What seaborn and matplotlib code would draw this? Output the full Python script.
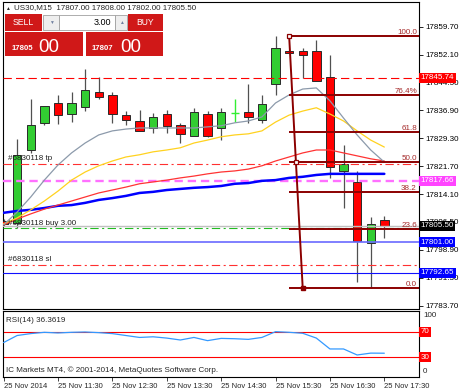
import matplotlib
matplotlib.use("Agg")
import matplotlib.pyplot as plt
import matplotlib.transforms as mtrans
from matplotlib.patches import Rectangle
import numpy as np
import pandas as pd
import seaborn as sns

# ---------------- data ----------------
symbol = "US30,M15"
header_ohlc = ["17807.00", "17808.00", "17802.00", "17805.50"]
bar_times = ["10:30", "10:45", "11:00", "11:15", "11:30", "11:45", "12:00", "12:15", "12:30", "12:45",
             "13:00", "13:15", "13:30", "13:45", "14:00", "14:15", "14:30", "14:45", "15:00", "15:15",
             "15:30", "15:45", "16:00", "16:15", "16:30", "16:45", "17:00", "17:15", "17:30"]
opens = [17806.8, 17806.2, 17826.1, 17833.5, 17839.0, 17835.9, 17837.9, 17842.0, 17841.1, 17835.6,
         17834.0, 17832.0, 17835.9, 17832.9, 17829.9, 17835.9, 17832.0, 17836.1, 17836.4, 17834.3,
         17844.1, 17853.1, 17853.1, 17853.1, 17845.9, 17820.5, 17817.3, 17800.9, 17807.0]
highs = [17807.3, 17829.1, 17839.9, 17838.1, 17841.2, 17842.0, 17848.1, 17845.9, 17842.0, 17836.8,
         17837.0, 17836.1, 17837.0, 17833.4, 17837.5, 17836.8, 17837.5, 17839.9, 17844.1, 17841.1,
         17857.2, 17853.2, 17853.8, 17856.1, 17852.0, 17827.5, 17820.5, 17807.9, 17808.0]
lows = [17805.4, 17804.9, 17825.3, 17832.8, 17833.2, 17833.7, 17836.7, 17839.9, 17833.4, 17832.9,
        17831.2, 17830.8, 17830.8, 17827.9, 17829.9, 17829.7, 17828.8, 17833.8, 17833.4, 17833.4,
        17841.1, 17852.5, 17845.7, 17844.9, 17818.4, 17810.2, 17790.2, 17788.4, 17802.0]
closes = [17806.0, 17824.8, 17832.9, 17838.1, 17835.5, 17839.0, 17842.5, 17840.5, 17835.9, 17834.3,
          17831.3, 17835.0, 17832.5, 17830.5, 17836.4, 17829.9, 17836.4, 17836.1, 17835.0, 17838.6,
          17854.0, 17852.6, 17852.0, 17844.9, 17821.4, 17822.3, 17801.3, 17805.9, 17805.5]

ma_gray = [17805.7, 17809.2, 17813.3, 17817.9, 17822.0, 17825.3, 17828.0, 17830.2, 17831.3, 17831.8,
           17832.1, 17832.1, 17832.1, 17832.1, 17832.1, 17832.4, 17832.7, 17833.5, 17834.0, 17835.1,
           17838.9, 17841.1, 17842.7, 17843.0, 17839.5, 17834.8, 17830.2, 17826.1, 17822.8]
ma_yellow = [17806.0, 17807.6, 17809.8, 17812.2, 17814.9, 17817.9, 17820.1, 17821.8, 17823.1, 17824.2,
             17824.8, 17825.6, 17826.1, 17826.7, 17828.0, 17828.8, 17829.7, 17830.2, 17830.5, 17831.3,
             17833.7, 17835.6, 17836.7, 17837.6, 17835.9, 17834.0, 17831.3, 17828.8, 17826.9]
ma_red = [17805.7, 17807.3, 17808.7, 17810.0, 17811.1, 17812.2, 17813.3, 17814.4, 17815.2, 17816.0,
          17816.9, 17817.4, 17817.9, 17818.5, 17819.0, 17819.6, 17820.1, 17820.4, 17820.9, 17821.8,
          17823.1, 17824.2, 17825.3, 17826.1, 17826.1, 17825.3, 17824.5, 17823.7, 17823.1]
ma_blue = [17809.0, 17809.5, 17809.8, 17810.3, 17810.9, 17811.1, 17811.7, 17812.5, 17813.0, 17813.6,
           17814.4, 17814.7, 17815.2, 17815.5, 17815.8, 17816.0, 17816.3, 17816.9, 17817.1, 17817.7,
           17817.9, 17818.5, 17818.8, 17819.3, 17819.6, 17819.6, 17819.6, 17819.6, 17819.6]
rsi = [53, 64, 67, 69, 68, 69, 69.5, 68.5, 67, 64,
       61, 62, 60, 57, 61, 56, 59.5, 59, 58, 61,
       70, 69, 67.5, 60, 43, 43, 33.6, 36.5, 36.3619]
rsi_label = "RSI(14) 36.3619"
rsi_levels = [70, 30]

price_ticks = [17859.70, 17852.10, 17844.50, 17836.90, 17829.30, 17821.70,
               17814.10, 17806.50, 17798.90, 17791.30, 17783.70]
time_tick_pos = [0, 4, 8, 12, 16, 20, 24, 28]
time_tick_labels = ["25 Nov 2014", "25 Nov 11:30", "25 Nov 12:30", "25 Nov 13:30",
                    "25 Nov 14:30", "25 Nov 15:30", "25 Nov 16:30", "25 Nov 17:30"]

resistance = 17845.74
magenta_level = 17817.66
bid_price = 17805.50
support_1 = 17801.00
support_2 = 17792.65
order_tp = 17822.30
order_open = 17804.80
order_sl = 17794.90
order_texts = ["#6830118 tp", "#6830118 buy 3.00", "#6830118 sl"]

fib_high, fib_high_bar = 17857.2, 21
fib_low, fib_low_bar = 17788.4, 22
fib_ratios = [0.0, 0.236, 0.382, 0.5, 0.618, 0.764, 1.0]
fib_labels = ["0.0", "23.6", "38.2", "50.0", "61.8", "76.4%", "100.0"]

sell_price, buy_price = ("17805", "00"), ("17807", "00")
lot = "3.00"
copyright_text = "IC Markets MT4, \u00a9 2001-2014, MetaQuotes Software Corp."

# ---------------- style ----------------
sns.set_style("white")
plt.rcParams["font.family"] = ["Liberation Sans", "DejaVu Sans"]
plt.rcParams["lines.scale_dashes"] = False
FS = 5.8

W, H = 460, 392
fig = plt.figure(figsize=(W / 100, H / 100), dpi=100)
fig.patch.set_facecolor("white")


def fx(x):
    return x / W


def fy(y):
    return 1 - y / H


ax = fig.add_axes([fx(3), fy(309), fx(419) - fx(3), fy(2) - fy(309)])
axr = fig.add_axes([fx(3), fy(377), fx(419) - fx(3), fy(311) - fy(377)], sharex=ax)

idx = np.arange(len(opens))
o = np.array(opens); c = np.array(closes); hi = np.array(highs); lo = np.array(lows)
up = c > o
dn = c < o
dj = c == o

XMIN, XMAX = -0.04, 30.55
ax.set_xlim(XMIN, XMAX)
ax.set_ylim(17782.8, 17866.4)

# candles
ax.vlines(idx[~dj], lo[~dj], hi[~dj], color="#505050", lw=0.9, zorder=3)
ax.bar(idx[up], (c - o)[up], bottom=o[up], width=0.62, color="#32cd32",
       edgecolor="#2a2a2a", lw=0.7, zorder=4)
ax.bar(idx[dn], (o - c)[dn], bottom=c[dn], width=0.62, color="#ff0000",
       edgecolor="#2a2a2a", lw=0.7, zorder=4)
ax.vlines(idx[dj], lo[dj], hi[dj], color="#33ee33", lw=1.0, zorder=4)
ax.hlines(c[dj], idx[dj] - 0.31, idx[dj] + 0.31, color="#33ee33", lw=1.0, zorder=4)

# horizontal levels
ax.axhline(resistance, color="#ff0000", lw=0.8, ls=(0, (6, 3)), zorder=5)
ax.axhline(order_tp, color="#ff3030", lw=0.8, ls=(0, (6, 2.5, 1.5, 2.5)), zorder=5)
ax.axhline(magenta_level, color="#ff70ff", lw=1.7, ls=(0, (6, 3.5)), zorder=5)
ax.axhline(bid_price, color="#c0c0c0", lw=1.0, zorder=5)
ax.axhline(order_open, color="#22bb22", lw=0.8, ls=(0, (6, 2.5, 1.5, 2.5)), zorder=5)
ax.axhline(support_1, color="#6a6aff", lw=1.2, zorder=5)
ax.axhline(order_sl, color="#ff3030", lw=0.8, ls=(0, (6, 2.5, 1.5, 2.5)), zorder=5)
ax.axhline(support_2, color="#1010ff", lw=0.8, zorder=5)

# moving averages
ma_df = pd.DataFrame({"bar": idx, "gray": ma_gray, "yellow": ma_yellow, "red": ma_red, "blue": ma_blue})
sns.lineplot(data=ma_df, x="bar", y="blue", ax=ax, color="#0000ff", lw=1.8, zorder=6, legend=False)
sns.lineplot(data=ma_df, x="bar", y="red", ax=ax, color="#ff3333", lw=0.9, zorder=6, legend=False)
sns.lineplot(data=ma_df, x="bar", y="yellow", ax=ax, color="#ffd21f", lw=0.9, zorder=6, legend=False)
sns.lineplot(data=ma_df, x="bar", y="gray", ax=ax, color="#8c9aab", lw=0.9, zorder=6, legend=False)

# fibonacci
fib_col = "#8b0000"
fib_vals = [fib_low + r * (fib_high - fib_low) for r in fib_ratios]
ax.hlines(fib_vals, fib_high_bar, XMAX, color=fib_col, lw=1.4, zorder=7)
ax.plot([fib_high_bar, fib_low_bar], [fib_high, fib_low], color=fib_col, lw=1.4, zorder=7)
ax.plot([fib_high_bar], [fib_high], marker="s", ms=3.5, mfc="white", mec=fib_col, mew=0.9, zorder=8)
ax.plot([(fib_high_bar + fib_low_bar) / 2], [(fib_high + fib_low) / 2], marker="s", ms=3.5,
        mfc="white", mec=fib_col, mew=0.9, zorder=8)
ax.plot([fib_low_bar], [fib_low], marker="s", ms=3.5, mfc=fib_col, mec=fib_col, zorder=8)
tr = mtrans.blended_transform_factory(ax.transAxes, ax.transData)
for v, lab in zip(fib_vals, fib_labels):
    ax.text(0.995, v, lab, transform=tr, ha="right", va="bottom", fontsize=FS,
            color="#a52a2a", zorder=9)

# order texts
for v, lab in zip([order_tp, order_open, order_sl], order_texts):
    ax.text(0.012, v + 0.4, lab, transform=tr, ha="left", va="bottom", fontsize=FS,
            color="#202020", zorder=9)

# price axis
ax.yaxis.tick_right()
ax.set_yticks(price_ticks)
ax.set_yticklabels([f"{p:.2f}" for p in price_ticks])
ax.tick_params(axis="y", direction="out", length=3, width=0.6, pad=1.5, labelsize=FS, colors="black")
ax.tick_params(axis="x", bottom=False, labelbottom=False)
ax.set_xlabel(""); ax.set_ylabel("")
for s in ax.spines.values():
    s.set_color("black"); s.set_linewidth(0.8)

for v, fc in [(resistance, "#ff0000"), (magenta_level, "#ff44ff"), (bid_price, "#000000"),
              (support_1, "#0000ff"), (support_2, "#0000ff")]:
    ax.text(1.004, v, f"{v:.2f}", transform=tr, ha="left", va="center", fontsize=FS,
            color="white", clip_on=False, zorder=12,
            bbox=dict(boxstyle="square,pad=0.18", fc=fc, ec="none"))

# RSI panel
rsi_df = pd.DataFrame({"bar": idx, "rsi": rsi})
for lv in rsi_levels:
    axr.axhline(lv, color="#ff0000", lw=0.8, zorder=2)
sns.lineplot(data=rsi_df, x="bar", y="rsi", ax=axr, color="#3399ff", lw=0.9, zorder=3, legend=False)
axr.set_ylim(-0.8, 102.3)
axr.set_yticks([])
axr.set_xlabel(""); axr.set_ylabel("")
for s in axr.spines.values():
    s.set_color("black"); s.set_linewidth(0.8)
trr = mtrans.blended_transform_factory(axr.transAxes, axr.transData)
axr.text(1.01, 96, "100", transform=trr, ha="left", va="center", fontsize=FS, clip_on=False)
axr.text(1.01, 8, "0", transform=trr, ha="left", va="center", fontsize=FS, clip_on=False)
for lv in rsi_levels:
    axr.text(1.004, lv, str(lv), transform=trr, ha="left", va="center", fontsize=FS,
             color="white", clip_on=False, bbox=dict(boxstyle="square,pad=0.18", fc="#ff0000", ec="none"))
axr.text(0.008, 0.86, rsi_label, transform=axr.transAxes, ha="left", va="center", fontsize=FS)
axr.text(0.008, 0.1, copyright_text, transform=axr.transAxes, ha="left", va="center", fontsize=FS)

axr.set_xticks(time_tick_pos)
axr.set_xticklabels(time_tick_labels)
axr.tick_params(axis="x", direction="out", length=3, width=0.6, pad=1.5, labelsize=5.5, bottom=True)
for lbl in axr.get_xticklabels():
    lbl.set_horizontalalignment("left")

# header
fig.text(fx(5), fy(8), "\u25b2", fontsize=3.5, va="center", ha="left")
fig.text(fx(14), fy(8), symbol + "  " + " ".join(header_ohlc), fontsize=FS, va="center", ha="left")


# one-click trading panel
def box(x0, y0, x1, y1, fc, ec="none", lw=0.0):
    fig.add_artist(Rectangle((fx(x0), fy(y1)), fx(x1) - fx(x0), fy(y0) - fy(y1),
                             transform=fig.transFigure, fc=fc, ec=ec, lw=lw, zorder=20))


red = "#d01818"
box(5, 14, 42, 31, red)
fig.text(fx(23.5), fy(22.5), "SELL", color="white", fontsize=6.2, ha="center", va="center", zorder=21)
box(43, 15, 59, 30, "#eeeeee", "#a0a0a0", 0.6)
fig.text(fx(51), fy(22.5), "\u25bc", color="#7080a0", fontsize=3.5, ha="center", va="center", zorder=21)
box(59, 15, 115, 30, "white", "#a0a0a0", 0.6)
fig.text(fx(111), fy(22.5), lot, color="black", fontsize=6.5, ha="right", va="center", zorder=21)
box(115, 15, 127, 30, "#eeeeee", "#a0a0a0", 0.6)
fig.text(fx(121), fy(22.5), "\u25b2", color="#7080a0", fontsize=3.5, ha="center", va="center", zorder=21)
box(128, 14, 163, 31, red)
fig.text(fx(145.5), fy(22.5), "BUY", color="white", fontsize=6.2, ha="center", va="center", zorder=21)

box(5, 32, 83, 56, red)
box(86, 32, 163, 56, red)
fig.text(fx(12), fy(50), sell_price[0], color="white", fontsize=5.6, fontweight="bold",
         ha="left", va="baseline", zorder=21)
fig.text(fx(38), fy(51.5), sell_price[1], color="white", fontsize=13.5, ha="left", va="baseline", zorder=21)
fig.text(fx(92), fy(50), buy_price[0], color="white", fontsize=5.6, fontweight="bold",
         ha="left", va="baseline", zorder=21)
fig.text(fx(120), fy(51.5), buy_price[1], color="white", fontsize=13.5, ha="left", va="baseline", zorder=21)

fig.savefig("out.png", dpi=100, facecolor="white")
